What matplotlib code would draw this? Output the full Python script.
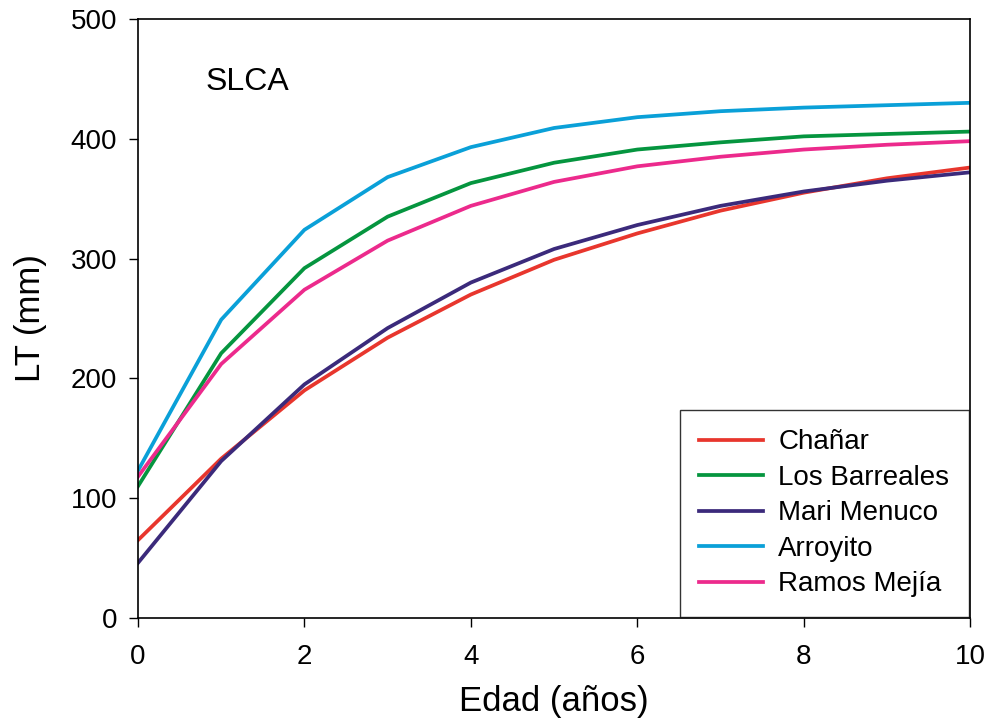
import matplotlib
matplotlib.use('Agg')
import matplotlib.pyplot as plt

plt.rcParams['font.family'] = ['Liberation Sans', 'DejaVu Sans']

edad = [0, 1, 2, 3, 4, 5, 6, 7, 8, 9, 10]

chanar = [65, 133, 190, 234, 270, 299, 321, 340, 355, 367, 376]
los_barreales = [110, 221, 292, 335, 363, 380, 391, 397, 402, 404, 406]
mari_menuco = [46, 131, 195, 242, 280, 308, 328, 344, 356, 365, 372]
arroyito = [123, 249, 324, 368, 393, 409, 418, 423, 426, 428, 430]
ramos_mejia = [118, 212, 274, 315, 344, 364, 377, 385, 391, 395, 398]

series = [
    ('Chañar', chanar, '#e8362d'),
    ('Los Barreales', los_barreales, '#05953f'),
    ('Mari Menuco', mari_menuco, '#3b2a7b'),
    ('Arroyito', arroyito, '#0aa0d8'),
    ('Ramos Mejía', ramos_mejia, '#ec2a8c'),
]

fig = plt.figure(figsize=(9.89, 7.28), dpi=100)
ax = fig.add_axes([0.1395, 0.151, 0.8415, 0.823])

for name, vals, col in series:
    ax.plot(edad, vals, color=col, lw=2.7, label=name)

ax.set_xlim(0, 10)
ax.set_ylim(0, 500)
ax.set_xticks(range(0, 11, 2))
ax.set_yticks(range(0, 501, 100))
ax.tick_params(direction='out', length=6.5, width=1, labelsize=20)
ax.tick_params(axis='x', pad=12)
ax.tick_params(axis='y', pad=8.5)
for s in ax.spines.values():
    s.set_linewidth(1.2)

ax.set_xlabel('Edad (años)', fontsize=25, labelpad=11)
ax.set_ylabel('LT (mm)', fontsize=25, labelpad=17)
ax.text(0.81, 441, 'SLCA', fontsize=23, va='baseline')

leg = ax.legend(loc='lower right', fontsize=20, frameon=True, fancybox=False,
                edgecolor='black', borderaxespad=0.05, handlelength=2.3,
                labelspacing=0.34, borderpad=0.7, handletextpad=0.55)
leg.get_frame().set_linewidth(1.0)

fig.savefig('out.png', dpi=100)
